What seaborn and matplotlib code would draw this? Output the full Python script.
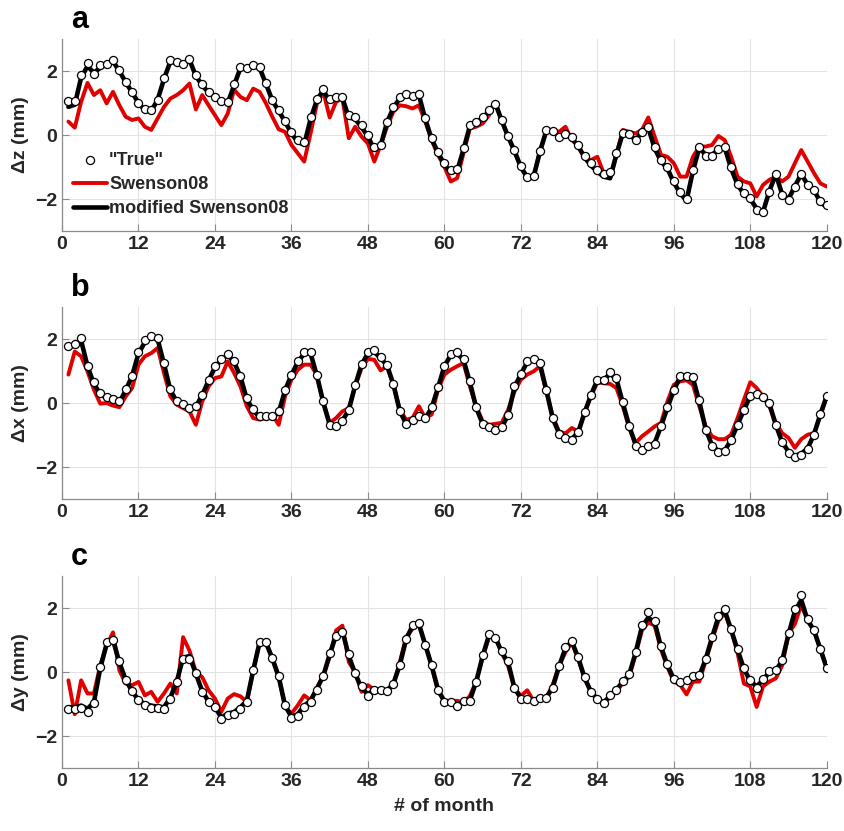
import numpy as np
import pandas as pd
import matplotlib
matplotlib.use("Agg")
import matplotlib.pyplot as plt
import seaborn as sns

months = list(range(1, 121))

a_true = [1.07, 1.07, 1.87, 2.26, 1.92, 2.18, 2.23, 2.36, 2.02, 1.66, 1.35, 0.99, 0.80, 0.78, 1.11, 1.79, 2.34, 2.28, 2.23, 2.39,
          1.87, 1.59, 1.35, 1.19, 1.06, 1.04, 1.58, 2.13, 2.10, 2.18, 2.13, 1.63, 1.11, 0.78, 0.45, 0.10, -0.16, -0.21, 0.57, 1.14,
          1.45, 1.14, 1.19, 1.19, 0.62, 0.55, 0.31, 0.00, -0.38, -0.31, 0.42, 0.88, 1.19, 1.27, 1.23, 1.28, 0.52, -0.10, -0.52, -0.88,
          -1.09, -1.07, -0.42, 0.31, 0.42, 0.55, 0.78, 0.97, 0.47, -0.03, -0.47, -0.97, -1.30, -1.28, -0.49, 0.16, 0.13, -0.05, 0.04, -0.07,
          -0.31, -0.65, -0.88, -1.09, -1.21, -1.14, -0.55, 0.07, 0.03, -0.16, 0.10, 0.26, -0.38, -0.78, -1.01, -1.45, -1.79, -2.00, -1.09, -0.38,
          -0.65, -0.65, -0.45, -0.38, -1.01, -1.53, -1.82, -1.97, -2.34, -2.42, -1.77, -1.21, -1.87, -2.02, -1.61, -1.21, -1.56, -1.71, -2.05, -2.18]
a_swenson = [0.42, 0.23, 1.04, 1.63, 1.25, 1.40, 0.99, 1.35, 0.93, 0.57, 0.47, 0.52, 0.26, 0.16, 0.52, 0.88, 1.14, 1.25, 1.40, 1.61,
             0.80, 1.25, 0.93, 0.62, 0.31, 0.67, 1.42, 1.19, 1.09, 1.45, 1.35, 0.99, 0.57, 0.18, 0.10, -0.31, -0.57, -0.83, 0.05, 0.99,
             1.35, 0.55, 1.04, 1.14, -0.10, 0.26, -0.05, -0.26, -0.83, -0.31, 0.26, 0.73, 0.93, 0.90, 0.83, 0.93, 0.42, -0.16, -0.62, -0.99,
             -1.45, -1.35, -0.57, 0.21, 0.26, 0.36, 0.62, 1.04, 0.45, -0.05, -0.50, -1.00, -1.30, -1.30, -0.50, 0.14, 0.14, 0.10, 0.26, -0.16,
             -0.31, -0.73, -0.78, -0.68, -1.19, -1.35, -0.62, 0.16, 0.10, 0.05, 0.16, 0.55, -0.05, -0.62, -0.68, -0.88, -1.30, -1.30, -0.68, -0.36,
             -0.36, -0.31, -0.03, -0.16, -0.68, -1.30, -1.45, -1.51, -1.92, -1.56, -1.40, -1.30, -1.45, -1.30, -0.88, -0.47, -0.83, -1.19, -1.51, -1.61]
a_modified = [0.88, 0.95, 1.80, 2.15, 1.95, 2.10, 2.22, 2.30, 2.00, 1.65, 1.33, 1.00, 0.78, 0.75, 1.10, 1.75, 2.30, 2.25, 2.22, 2.35,
              1.85, 1.55, 1.33, 1.17, 1.03, 1.00, 1.55, 2.10, 2.08, 2.15, 2.10, 1.60, 1.08, 0.75, 0.42, 0.05, -0.22, -0.30, 0.50, 1.10,
              1.40, 1.05, 1.15, 1.15, 0.55, 0.50, 0.25, -0.05, -0.45, -0.33, 0.40, 0.85, 1.15, 1.22, 1.20, 1.25, 0.50, -0.12, -0.55, -0.92,
              -1.18, -1.12, -0.45, 0.28, 0.40, 0.52, 0.75, 0.98, 0.45, -0.05, -0.50, -1.00, -1.33, -1.30, -0.52, 0.14, 0.12, -0.06, 0.03, -0.10,
              -0.35, -0.70, -0.95, -1.15, -1.30, -1.35, -0.60, 0.05, 0.02, -0.15, 0.08, 0.22, -0.42, -0.82, -1.05, -1.48, -1.82, -2.05, -1.12, -0.40,
              -0.62, -0.62, -0.45, -0.40, -1.05, -1.55, -1.85, -2.00, -2.30, -2.40, -1.75, -1.22, -1.85, -2.00, -1.60, -1.22, -1.55, -1.72, -2.10, -2.25]

b_true = [1.79, 1.85, 2.03, 1.17, 0.65, 0.31, 0.19, 0.14, 0.05, 0.44, 0.85, 1.58, 1.96, 2.10, 2.03, 1.25, 0.44, 0.07, -0.02, -0.16,
          -0.10, 0.26, 0.73, 1.15, 1.38, 1.54, 1.30, 0.85, 0.16, -0.19, -0.42, -0.42, -0.42, -0.26, 0.42, 0.89, 1.30, 1.61, 1.61, 0.89,
          0.05, -0.68, -0.73, -0.57, -0.21, 0.57, 1.22, 1.58, 1.65, 1.44, 1.20, 0.60, -0.26, -0.66, -0.54, -0.40, -0.47, -0.13, 0.50, 1.17,
          1.54, 1.58, 1.38, 0.68, -0.13, -0.65, -0.75, -0.85, -0.75, -0.36, 0.54, 0.92, 1.30, 1.38, 1.25, 0.42, -0.47, -0.96, -1.08, -1.15,
          -0.92, -0.29, 0.26, 0.73, 0.73, 0.96, 0.77, 0.02, -0.71, -1.33, -1.48, -1.35, -1.27, -0.73, -0.13, 0.42, 0.85, 0.85, 0.81, 0.08,
          -0.83, -1.35, -1.53, -1.51, -1.17, -0.68, -0.21, 0.23, 0.29, 0.19, 0.00, -0.68, -1.23, -1.56, -1.69, -1.61, -1.44, -0.99, -0.33, 0.23]
b_swenson = [0.89, 1.61, 1.46, 0.99, 0.42, -0.02, 0.00, -0.08, -0.13, 0.21, 0.47, 1.20, 1.46, 1.56, 1.72, 0.94, 0.21, -0.05, -0.16, -0.26,
             -0.68, 0.05, 0.52, 0.78, 0.83, 1.30, 0.94, 0.52, -0.10, -0.47, -0.52, -0.47, -0.36, -0.68, 0.21, 0.73, 1.04, 1.20, 1.20, 0.88,
             0.00, -0.62, -0.47, -0.26, -0.16, 0.52, 1.09, 1.38, 1.35, 1.02, 1.15, 0.57, -0.21, -0.52, -0.47, -0.10, -0.47, -0.36, 0.42, 0.89,
             1.04, 1.15, 1.25, 0.52, -0.10, -0.57, -0.68, -0.65, -0.62, -0.21, 0.36, 0.73, 0.89, 0.99, 1.15, 0.36, -0.42, -0.89, -0.95, -0.78,
             -0.89, -0.29, 0.21, 0.65, 0.62, 0.60, 0.47, -0.10, -0.78, -1.25, -1.04, -0.89, -0.73, -0.62, 0.05, 0.57, 0.68, 0.71, 0.57, -0.10,
             -0.73, -1.04, -1.13, -1.13, -0.99, -0.47, 0.10, 0.65, 0.47, 0.21, -0.10, -0.62, -0.94, -1.09, -1.40, -1.13, -0.99, -0.94, -0.40, 0.20]
b_modified = [1.75, 1.80, 1.95, 1.15, 0.60, 0.28, 0.15, 0.10, 0.02, 0.40, 0.85, 1.55, 1.90, 2.05, 2.00, 1.22, 0.40, 0.05, -0.05, -0.18,
              -0.12, 0.25, 0.70, 1.12, 1.35, 1.50, 1.28, 0.82, 0.12, -0.22, -0.45, -0.45, -0.45, -0.30, 0.40, 0.88, 1.28, 1.55, 1.55, 0.85,
              0.02, -0.68, -0.72, -0.55, -0.22, 0.55, 1.20, 1.55, 1.60, 1.40, 1.18, 0.58, -0.25, -0.65, -0.55, -0.42, -0.48, -0.15, 0.48, 1.15,
              1.50, 1.55, 1.35, 0.65, -0.15, -0.65, -0.75, -0.85, -0.75, -0.38, 0.50, 0.90, 1.28, 1.35, 1.22, 0.40, -0.48, -0.95, -1.08, -1.12,
              -0.92, -0.30, 0.25, 0.72, 0.72, 0.92, 0.75, 0.00, -0.72, -1.30, -1.45, -1.35, -1.25, -0.72, -0.15, 0.40, 0.82, 0.82, 0.78, 0.05,
              -0.82, -1.32, -1.50, -1.48, -1.15, -0.68, -0.22, 0.22, 0.28, 0.18, -0.02, -0.68, -1.22, -1.52, -1.65, -1.58, -1.42, -0.98, -0.35, 0.22]

c_true = [-1.17, -1.17, -1.11, -1.24, -0.96, 0.16, 0.93, 1.01, 0.36, -0.24, -0.59, -0.88, -1.04, -1.11, -1.11, -1.17, -0.83, -0.31, 0.41, 0.41,
          -0.03, -0.62, -0.93, -1.09, -1.48, -1.35, -1.30, -1.17, -0.93, 0.07, 0.93, 0.93, 0.45, -0.13, -1.04, -1.45, -1.38, -1.08, -0.93, -0.55,
          -0.13, 0.59, 1.14, 1.24, 0.57, -0.03, -0.45, -0.76, -0.55, -0.57, -0.59, -0.36, 0.21, 1.04, 1.48, 1.52, 0.86, 0.21, -0.55, -0.93,
          -0.93, -1.07, -0.90, -0.90, -0.31, 0.52, 1.19, 1.07, 0.65, 0.34, -0.49, -0.83, -0.83, -0.90, -0.80, -0.80, -0.49, 0.18, 0.78, 0.98,
          0.47, -0.16, -0.62, -0.83, -0.98, -0.73, -0.55, -0.28, -0.05, 0.62, 1.48, 1.87, 1.59, 0.80, 0.24, -0.21, -0.31, -0.26, -0.13, -0.10,
          0.41, 1.11, 1.76, 1.97, 1.35, 0.73, 0.13, -0.24, -0.49, -0.21, 0.03, 0.07, 0.38, 1.21, 1.97, 2.41, 1.66, 1.32, 0.73, 0.13]
c_swenson = [-0.26, -1.32, -0.26, -0.67, -0.67, 0.21, 0.83, 1.24, 0.05, -0.36, -0.41, -0.31, -0.73, -0.62, -0.93, -0.67, -0.36, -0.67, 1.09, 0.67,
             0.00, -0.16, -0.57, -0.83, -1.24, -0.83, -0.69, -0.76, -0.93, 0.05, 0.93, 0.93, 0.45, -0.13, -1.09, -1.30, -1.04, -0.73, -0.88, -0.50,
             -0.10, 0.47, 1.30, 1.45, 0.31, 0.00, -0.62, -0.41, -0.55, -0.55, -0.60, -0.40, 0.30, 1.10, 1.35, 1.50, 0.86, 0.20, -0.60, -0.90,
             -0.90, -0.90, -0.95, -0.75, -0.30, 0.45, 1.10, 1.10, 0.60, 0.20, -0.50, -0.75, -0.57, -0.90, -0.80, -0.80, -0.40, 0.20, 0.62, 0.93,
             0.40, -0.20, -0.60, -0.85, -0.95, -0.80, -0.60, -0.35, -0.15, 0.55, 1.30, 1.55, 1.45, 0.70, 0.15, -0.30, -0.40, -0.70, -0.30, -0.30,
             0.35, 1.00, 1.60, 1.85, 1.30, 0.60, -0.36, -0.45, -1.09, -0.45, -0.30, -0.20, 0.20, 1.20, 1.50, 2.10, 1.60, 1.30, 0.70, 0.15]
c_modified = [-1.10, -1.10, -1.05, -1.15, -0.95, 0.12, 0.88, 1.00, 0.30, -0.25, -0.60, -0.88, -1.00, -1.05, -1.08, -1.10, -0.80, -0.30, 0.45, 0.50,
              -0.05, -0.60, -0.92, -1.10, -1.42, -1.30, -1.25, -1.10, -0.90, 0.05, 0.92, 0.92, 0.42, -0.15, -1.05, -1.40, -1.32, -1.05, -0.90, -0.52,
              -0.12, 0.55, 1.15, 1.28, 0.50, -0.05, -0.50, -0.70, -0.55, -0.57, -0.58, -0.36, 0.22, 1.02, 1.45, 1.50, 0.85, 0.20, -0.55, -0.92,
              -0.92, -1.02, -0.92, -0.88, -0.30, 0.50, 1.15, 1.08, 0.62, 0.30, -0.50, -0.82, -0.82, -0.88, -0.80, -0.80, -0.48, 0.18, 0.75, 0.95,
              0.45, -0.18, -0.62, -0.85, -0.95, -0.75, -0.55, -0.30, -0.08, 0.60, 1.42, 1.70, 1.55, 0.78, 0.22, -0.22, -0.32, -0.30, -0.15, -0.12,
              0.40, 1.08, 1.72, 1.92, 1.32, 0.70, 0.10, -0.28, -0.45, -0.25, 0.00, 0.05, 0.35, 1.18, 1.90, 2.25, 1.62, 1.30, 0.72, 0.12]

panel_letters = ["a", "b", "c"]
ylabels = ["Δz (mm)", "Δx (mm)", "Δy (mm)"]
xticks = [0, 12, 24, 36, 48, 60, 72, 84, 96, 108, 120]
yticks = [-2, 0, 2]
legend_labels = ['"True"', "Swenson08", "modified Swenson08"]

sns.set_theme(style="white")
FONT = ["Liberation Sans Narrow", "Liberation Sans", "DejaVu Sans"]
plt.rcParams["font.family"] = FONT

fig = plt.figure(figsize=(8.45, 8.31), dpi=100)
panels = [(a_true, a_swenson, a_modified), (b_true, b_swenson, b_modified), (c_true, c_swenson, c_modified)]
bottoms = [0.722, 0.3995, 0.0758]

for i, (tru, swe, mod) in enumerate(panels):
    ax = fig.add_axes([0.0734, bottoms[i], 0.905, 0.231])
    df = pd.DataFrame({"month": months, "true": tru, "swe": swe, "mod": mod})
    sns.lineplot(data=df, x="month", y="swe", ax=ax, color="#e00000", linewidth=2.8,
                 estimator=None, sort=False, label=legend_labels[1], zorder=3)
    sns.lineplot(data=df, x="month", y="mod", ax=ax, color="black", linewidth=3.3,
                 estimator=None, sort=False, label=legend_labels[2], zorder=4)
    sns.scatterplot(data=df, x="month", y="true", ax=ax, marker="o", s=34,
                    facecolor="white", edgecolor="black", linewidth=0.9,
                    label=legend_labels[0], zorder=5)
    ax.set_xlim(0, 120)
    ax.set_ylim(-3, 3)
    ax.set_xticks(xticks)
    ax.set_yticks(yticks)
    ax.grid(True, color="#e3e3e3", linewidth=0.8)
    ax.set_axisbelow(True)
    for s in ["top", "right"]:
        ax.spines[s].set_visible(False)
    for s in ["left", "bottom"]:
        ax.spines[s].set_color("#8a8a8a")
        ax.spines[s].set_linewidth(0.9)
    ax.tick_params(direction="in", length=5, width=0.8, color="#8a8a8a",
                   labelsize=14, labelcolor="#262626", bottom=True, left=True)
    for lab in ax.get_xticklabels() + ax.get_yticklabels():
        lab.set_fontweight("bold")
    ax.set_ylabel(ylabels[i], fontsize=14, fontweight="bold", color="#262626", labelpad=4)
    if i == 2:
        ax.set_xlabel("# of month", fontsize=14, fontweight="bold", color="#262626", labelpad=6)
    else:
        ax.set_xlabel("")
    ax.text(0.012, 1.02, panel_letters[i], transform=ax.transAxes, fontsize=22,
            fontweight="bold", ha="left", va="bottom", color="black")
    if i == 0:
        h, l = ax.get_legend_handles_labels()
        order = [l.index(x) for x in legend_labels]
        leg = ax.legend([h[k] for k in order], [l[k] for k in order], loc="upper left",
                        bbox_to_anchor=(0.0, 0.47), frameon=False, fontsize=13,
                        handlelength=1.9, handletextpad=0.1, labelspacing=0.4,
                        borderaxespad=0.2)
        for t in leg.get_texts():
            t.set_fontweight("bold")
    else:
        if ax.get_legend() is not None:
            ax.get_legend().remove()

fig.savefig("out.png", dpi=100)
